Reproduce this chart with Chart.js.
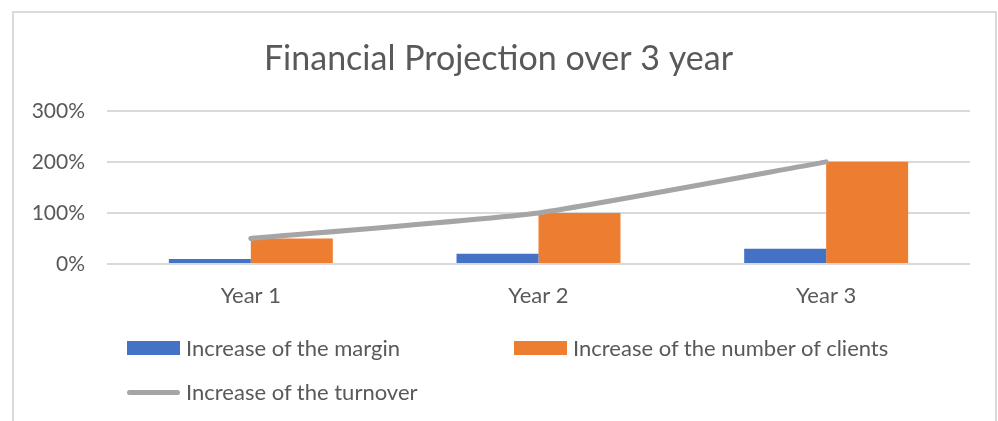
<!DOCTYPE html>
<html>
<head>
<meta charset="utf-8">
<script src="https://cdn.jsdelivr.net/npm/chart.js@4.4.1/dist/chart.umd.min.js"></script>
<style>
    html, body { margin: 0; padding: 0; background: #fff; }
    body { width: 998px; height: 421px; overflow: hidden; position: relative; font-family: Lato, sans-serif; }
    .o_frame {
        position: absolute; left: 12px; top: 11px;
        width: 981px; height: 420px;
        border: 2px solid #d9d9d9;
    }
    .o_frame canvas { display: block; }
    .o_legend {
        position: absolute; left: 127px; top: 334px;
        display: grid; grid-template-columns: 387px auto; row-gap: 16px;
        color: #595959; font-size: 22px; line-height: 28px;
    }
    .o_legend_item { display: flex; align-items: center; white-space: nowrap; }
    .o_legend_key { width: 53px; margin-right: 6px; }
</style>
</head>
<body>
<div class="o_frame"><canvas id="chart" width="981" height="420"></canvas></div>
<div class="o_legend" id="legend"></div>
<script>
const title = "Financial Projection over 3 year";
const years = ["Year 1", "Year 2", "Year 3"];
const marginIncrease = [10, 20, 30];
const clientsIncrease = [50, 100, 200];
const turnoverIncrease = [50, 100, 200];
const yTicks = [0, 100, 200, 300];

const textColor = "#595959";
const gridColor = "#d9d9d9";

// legend laid out like the office one: two columns, left aligned
const htmlLegend = {
    id: "htmlLegend",
    afterUpdate(chart) {
        const box = document.getElementById("legend");
        box.innerHTML = "";
        const order = [1, 2, 0];
        for (const i of order) {
            const ds = chart.data.datasets[i];
            const item = document.createElement("div");
            item.className = "o_legend_item";
            const key = document.createElement("span");
            key.className = "o_legend_key";
            if (ds.type === "line") {
                key.style.height = "5px";
                key.style.borderRadius = "3px";
                key.style.background = ds.borderColor;
            } else {
                key.style.height = "14px";
                key.style.background = ds.backgroundColor;
            }
            const label = document.createElement("span");
            label.textContent = ds.label;
            item.appendChild(key);
            item.appendChild(label);
            box.appendChild(item);
        }
    },
};

new Chart(document.getElementById("chart"), {
    data: {
        labels: years,
        datasets: [
            {
                type: "line",
                label: "Increase of the turnover",
                data: turnoverIncrease,
                borderColor: "#a5a5a5",
                borderWidth: 5,
                borderCapStyle: "round",
                tension: 0.15,
                pointRadius: 0,
                order: 0,
            },
            {
                type: "bar",
                label: "Increase of the margin",
                data: marginIncrease,
                backgroundColor: "#4472c4",
                order: 1,
            },
            {
                type: "bar",
                label: "Increase of the number of clients",
                data: clientsIncrease,
                backgroundColor: "#ed7d31",
                order: 1,
            },
        ],
    },
    options: {
        responsive: false,
        animation: false,
        datasets: {
            bar: { categoryPercentage: 0.57, barPercentage: 1.0 },
        },
        layout: { padding: { left: 13, right: 25, top: 0, bottom: 109 } },
        plugins: {
            legend: { display: false },
            tooltip: { enabled: false },
            title: {
                display: true,
                text: title,
                color: textColor,
                font: { family: "Lato", size: 34, weight: "normal", lineHeight: 1.2 },
                padding: { top: 26, bottom: 31 },
            },
        },
        scales: {
            x: {
                grid: { display: false },
                border: { display: false },
                ticks: {
                    color: textColor,
                    padding: 11,
                    font: { family: "Lato", size: 22 },
                },
                afterFit(scale) { scale.height = 60; },
            },
            y: {
                min: yTicks[0],
                max: yTicks[yTicks.length - 1],
                afterBuildTicks(scale) { scale.ticks = yTicks.map((v) => ({ value: v })); },
                grid: { color: gridColor, lineWidth: 2, drawTicks: false },
                border: { display: false },
                ticks: {
                    color: textColor,
                    padding: 22,
                    font: { family: "Lato", size: 21 },
                    callback: (v) => v + "%",
                },
                afterFit(scale) { scale.width = 80; },
            },
        },
    },
    plugins: [htmlLegend],
});
</script>
</body>
</html>
